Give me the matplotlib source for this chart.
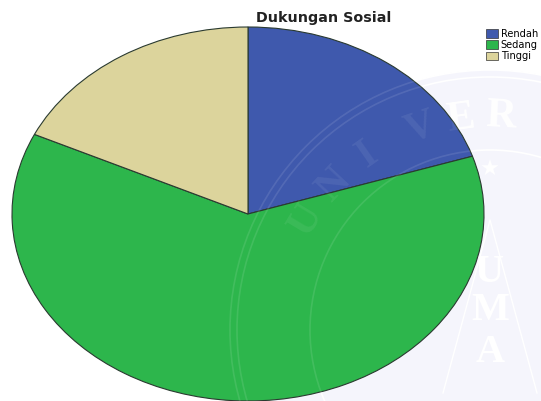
import numpy as np
import matplotlib
matplotlib.use('Agg')
import matplotlib.pyplot as plt
from matplotlib.patches import Patch, Circle

categories = ['Rendah', 'Sedang', 'Tinggi']
values = [20, 62, 18]
colors = ['#3f59ad', '#2db64c', '#dcd49c']

W, H = 541, 401
fig = plt.figure(figsize=(W / 100, H / 100), dpi=100)


def pixel_axes(z):
    a = fig.add_axes([0, 0, 1, 1], zorder=z)
    a.set_xlim(0, W)
    a.set_ylim(H, 0)
    a.axis('off')
    return a


# faint university stamp, one layer under the pie and one over it
cx, cy = 490, 330
back = pixel_axes(0)
front = pixel_axes(2)
back.add_patch(Circle((cx, cy), 260, facecolor='#f5f5fc', edgecolor='none'))
for layer, alpha, ring_alpha in [(back, 1.0, 1.0), (front, 0.07, 0.1)]:
    for r in [260, 253, 180]:
        layer.add_patch(Circle((cx, cy), r, fill=False, edgecolor='white', linewidth=1.2, alpha=ring_alpha))
    for letter, deg in zip('UNIVER', [-59, -47, -35, -19, -8, 3]):
        ang = np.radians(deg)
        layer.text(cx + 213 * np.sin(ang), cy - 213 * np.cos(ang), letter, rotation=-deg,
                   ha='center', va='center', fontsize=30, family='Liberation Serif', fontweight='bold',
                   color='white', alpha=alpha)
for letter, y in zip('UMA', [273, 310, 353]):
    back.text(cx, y, letter, ha='center', va='center', fontsize=29, family='Liberation Serif',
              fontweight='bold', color='white')
back.text(cx, 170, '\u2605', ha='center', va='center', fontsize=16, family='DejaVu Sans', color='white')
back.plot([443, 490, 537], [393, 220, 393], color='white', linewidth=1.0)

# pie is an ellipse: 12..484 wide, 27..401 tall in pixels
ax = fig.add_axes([12 / W, 0, 472 / W, 374 / H], zorder=1)
ax.patch.set_alpha(0)
ax.pie(values, colors=colors, startangle=90, counterclock=False, radius=1,
       wedgeprops={'edgecolor': '#2a3a30', 'linewidth': 0.8})
ax.set_aspect('auto')
ax.set_xlim(-1, 1)
ax.set_ylim(-1, 1)

fig.text(324 / W, 1 - 18 / H, 'Dukungan Sosial', ha='center', va='center',
         fontsize=10.3, fontweight='bold', family='DejaVu Sans', color='#222222', zorder=6)

handles = [Patch(facecolor=c, edgecolor='#333333', linewidth=0.5) for c in colors]
leg = fig.legend(handles, categories, loc='upper left', bbox_to_anchor=(486 / W, 1 - 29 / H),
                 frameon=False, labelspacing=0.12, handlelength=1.2, handleheight=1.0,
                 handletextpad=0.3, borderpad=0, borderaxespad=0,
                 prop={'family': 'DejaVu Sans', 'size': 7.1})
leg.set_zorder(6)

fig.savefig('out.png', dpi=100)
